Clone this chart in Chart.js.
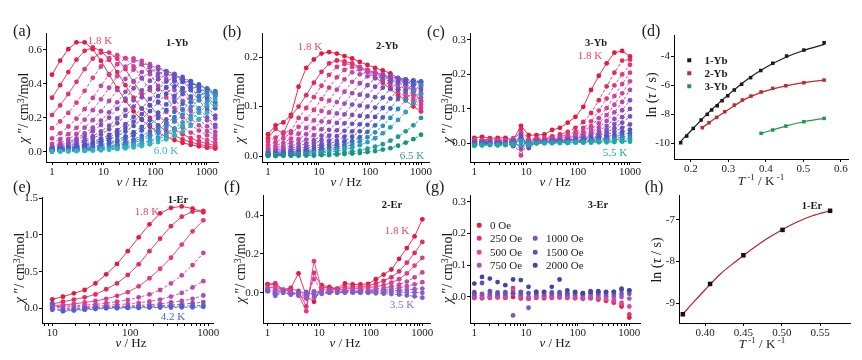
<!DOCTYPE html>
<html>
<head>
<meta charset="utf-8">
<script src="https://cdn.jsdelivr.net/npm/chart.js@4.4.1/dist/chart.umd.min.js"></script>
<style>
body{margin:0;background:#fff;width:862px;height:360px;position:relative;overflow:hidden;
  font-family:"Liberation Serif","Times New Roman",serif;color:#1a1a1a}
canvas{position:absolute;z-index:1}
.t{position:absolute;white-space:nowrap;line-height:1;transform:translate(-50%,-50%);z-index:2}
sup{font-size:0.7em;vertical-align:0.45em;line-height:0}
.dot{position:absolute;z-index:2;transform:translate(-50%,-50%)}
</style>
</head>
<body>
<script>
// frequencies (Hz)
const freqA = [1, 1.44, 2.07, 2.98, 4.29, 6.17, 8.88, 12.8, 18.4, 26.5, 38.1, 54.9, 79, 114, 164, 236, 340, 489, 704, 1013, 1459];
const freqStd = [1, 1.41, 2, 2.82, 3.98, 5.62, 7.94, 11.2, 15.8, 22.4, 31.6, 44.7, 63.1, 89.1, 126, 178, 251, 355, 501, 708, 1000];
const freqE = [10, 13.7, 18.9, 26, 35.7, 49.1, 67.5, 92.8, 128, 176, 241, 332, 456, 628, 863];

// (a) 1-Yb, 1.8 K ... 6.0 K
const chi1Yb = [
  [0.455,0.537,0.605,0.645,0.645,0.605,0.537,0.455,0.376,0.302,0.239,0.189,0.148,0.115,0.089,0.070,0.054,0.042,0.033,0.025,0.020],
  [0.319,0.393,0.470,0.543,0.595,0.615,0.595,0.543,0.470,0.393,0.319,0.255,0.201,0.157,0.123,0.096,0.074,0.058,0.045,0.035,0.027],
  [0.217,0.274,0.341,0.413,0.487,0.549,0.585,0.585,0.549,0.487,0.413,0.341,0.274,0.217,0.171,0.134,0.104,0.081,0.063,0.049,0.038],
  [0.140,0.180,0.230,0.290,0.360,0.436,0.503,0.552,0.570,0.552,0.503,0.436,0.364,0.296,0.236,0.186,0.146,0.114,0.089,0.069,0.054],
  [0.080,0.110,0.150,0.196,0.252,0.318,0.389,0.458,0.516,0.551,0.551,0.516,0.458,0.389,0.321,0.258,0.204,0.161,0.126,0.098,0.076],
  [0.048,0.075,0.105,0.142,0.190,0.246,0.310,0.378,0.446,0.502,0.536,0.536,0.502,0.446,0.378,0.312,0.251,0.199,0.157,0.123,0.096],
  [0.032,0.052,0.076,0.106,0.143,0.187,0.239,0.300,0.364,0.430,0.484,0.516,0.516,0.484,0.430,0.364,0.301,0.241,0.191,0.151,0.118],
  [0.026,0.040,0.058,0.080,0.109,0.143,0.184,0.233,0.292,0.354,0.417,0.470,0.501,0.501,0.470,0.417,0.354,0.292,0.234,0.186,0.146],
  [0.022,0.034,0.050,0.069,0.093,0.122,0.158,0.202,0.254,0.313,0.375,0.433,0.474,0.490,0.474,0.433,0.375,0.313,0.254,0.203,0.160],
  [0.019,0.028,0.039,0.053,0.071,0.093,0.121,0.155,0.197,0.247,0.304,0.363,0.419,0.460,0.475,0.460,0.419,0.363,0.304,0.247,0.197],
  [0.017,0.024,0.034,0.046,0.061,0.080,0.103,0.133,0.169,0.213,0.266,0.322,0.380,0.428,0.456,0.456,0.428,0.380,0.322,0.266,0.213],
  [0.014,0.019,0.026,0.035,0.047,0.060,0.079,0.101,0.129,0.164,0.206,0.257,0.312,0.368,0.414,0.441,0.441,0.414,0.368,0.312,0.257],
  [0.013,0.017,0.023,0.030,0.039,0.052,0.067,0.086,0.110,0.141,0.178,0.223,0.275,0.329,0.380,0.416,0.430,0.416,0.380,0.329,0.275],
  [0.011,0.015,0.020,0.026,0.034,0.044,0.057,0.073,0.094,0.120,0.153,0.193,0.240,0.291,0.343,0.386,0.412,0.412,0.386,0.343,0.291],
  [0.009,0.012,0.016,0.020,0.026,0.033,0.043,0.055,0.071,0.091,0.116,0.147,0.186,0.231,0.280,0.330,0.372,0.397,0.397,0.372,0.330],
  [0.008,0.010,0.013,0.017,0.022,0.028,0.036,0.047,0.060,0.077,0.099,0.126,0.159,0.200,0.246,0.295,0.340,0.373,0.385,0.373,0.340],
  [0.006,0.007,0.010,0.013,0.016,0.021,0.027,0.035,0.045,0.058,0.074,0.095,0.121,0.153,0.192,0.236,0.283,0.327,0.358,0.370,0.358],
  [0.005,0.006,0.008,0.011,0.014,0.018,0.023,0.029,0.038,0.049,0.063,0.081,0.103,0.131,0.165,0.205,0.249,0.293,0.330,0.352,0.352],
  [0.004,0.006,0.007,0.009,0.012,0.015,0.020,0.025,0.032,0.042,0.054,0.069,0.088,0.113,0.143,0.179,0.220,0.264,0.305,0.334,0.345],
  [0.003,0.004,0.005,0.007,0.009,0.011,0.015,0.019,0.024,0.031,0.041,0.052,0.067,0.086,0.110,0.139,0.174,0.214,0.256,0.296,0.324],
  [0.003,0.004,0.005,0.006,0.008,0.010,0.013,0.017,0.021,0.027,0.035,0.045,0.058,0.075,0.096,0.121,0.153,0.191,0.231,0.273,0.307],
  [0.002,0.003,0.004,0.005,0.006,0.008,0.010,0.013,0.017,0.021,0.027,0.035,0.045,0.058,0.075,0.096,0.121,0.153,0.191,0.231,0.273]
];

// (b) 2-Yb, 1.8 K ... 6.5 K
const chi2Yb = [
  [0.044,0.062,0.068,0.083,0.140,0.178,0.195,0.207,0.210,0.207,0.202,0.197,0.190,0.184,0.178,0.173,0.167,0.157,0.145,0.130,0.110],
  [0.036,0.055,0.045,0.080,0.100,0.123,0.148,0.170,0.187,0.193,0.191,0.187,0.179,0.170,0.159,0.148,0.135,0.123,0.112,0.100,0.090],
  [0.029,0.037,0.048,0.050,0.077,0.097,0.119,0.142,0.164,0.180,0.186,0.185,0.180,0.173,0.164,0.154,0.142,0.130,0.119,0.108,0.097],
  [0.022,0.028,0.036,0.046,0.059,0.075,0.093,0.115,0.138,0.159,0.174,0.180,0.179,0.174,0.167,0.159,0.149,0.138,0.126,0.115,0.104],
  [0.016,0.021,0.027,0.035,0.045,0.057,0.072,0.091,0.112,0.134,0.155,0.169,0.175,0.174,0.169,0.163,0.155,0.145,0.134,0.123,0.112],
  [0.012,0.016,0.021,0.027,0.034,0.044,0.056,0.070,0.088,0.109,0.130,0.150,0.165,0.170,0.169,0.165,0.158,0.150,0.140,0.130,0.119],
  [0.009,0.012,0.016,0.020,0.026,0.033,0.042,0.054,0.069,0.086,0.106,0.127,0.147,0.161,0.166,0.165,0.161,0.154,0.147,0.137,0.127],
  [0.007,0.009,0.012,0.015,0.020,0.025,0.032,0.041,0.053,0.067,0.084,0.104,0.124,0.143,0.157,0.162,0.161,0.157,0.151,0.143,0.134],
  [0.005,0.007,0.009,0.012,0.015,0.019,0.025,0.032,0.041,0.052,0.066,0.083,0.102,0.122,0.140,0.154,0.159,0.158,0.154,0.148,0.140],
  [0.004,0.005,0.007,0.009,0.011,0.015,0.019,0.024,0.031,0.040,0.051,0.065,0.081,0.100,0.119,0.138,0.151,0.156,0.155,0.151,0.145],
  [0.003,0.004,0.005,0.007,0.009,0.011,0.014,0.019,0.024,0.031,0.039,0.050,0.064,0.080,0.098,0.118,0.136,0.149,0.154,0.153,0.149],
  [0.002,0.003,0.004,0.005,0.007,0.009,0.011,0.014,0.018,0.024,0.030,0.039,0.050,0.063,0.079,0.097,0.116,0.134,0.147,0.152,0.151],
  [0.002,0.002,0.003,0.004,0.005,0.007,0.009,0.011,0.014,0.018,0.023,0.030,0.038,0.049,0.062,0.078,0.096,0.115,0.132,0.145,0.150],
  [0.001,0.002,0.002,0.003,0.004,0.005,0.007,0.008,0.011,0.014,0.018,0.023,0.030,0.038,0.048,0.061,0.077,0.095,0.113,0.131,0.143],
  [0.001,0.001,0.002,0.002,0.003,0.004,0.005,0.006,0.008,0.010,0.013,0.017,0.022,0.028,0.036,0.046,0.058,0.073,0.089,0.107,0.124],
  [0.001,0.001,0.001,0.001,0.001,0.002,0.002,0.003,0.004,0.005,0.007,0.009,0.011,0.015,0.019,0.024,0.031,0.039,0.050,0.062,0.077],
  [0.000,0.000,0.001,0.001,0.001,0.001,0.001,0.002,0.002,0.003,0.004,0.005,0.006,0.008,0.010,0.013,0.016,0.021,0.027,0.034,0.043]
];

// (c) 3-Yb, 1.8 K ... 5.5 K
const chi3Yb = [
  [0.016,0.019,0.015,0.016,0.016,0.010,0.051,0.024,0.024,0.026,0.039,0.045,0.060,0.077,0.106,0.155,0.196,0.232,0.263,0.268,0.252],
  [0.012,0.010,0.012,0.011,0.010,0.005,0.040,0.012,0.015,0.016,0.020,0.026,0.033,0.045,0.062,0.088,0.125,0.165,0.205,0.240,0.243],
  [0.010,0.009,0.010,0.009,0.008,0.002,-0.035,0.010,0.012,0.013,0.016,0.020,0.025,0.033,0.045,0.064,0.095,0.130,0.168,0.200,0.228],
  [0.008,0.008,0.009,0.008,0.006,0.015,0.030,0.005,0.011,0.012,0.014,0.016,0.020,0.026,0.035,0.050,0.073,0.102,0.137,0.172,0.205],
  [0.006,0.007,0.006,0.006,0.005,0.012,-0.018,0.006,0.009,0.010,0.012,0.014,0.017,0.021,0.028,0.040,0.058,0.082,0.112,0.145,0.180],
  [0.005,0.006,0.005,0.004,0.004,0.000,0.020,-0.010,0.008,0.009,0.010,0.012,0.014,0.018,0.023,0.032,0.046,0.065,0.090,0.120,0.155],
  [0.004,0.004,0.004,0.003,0.003,0.008,0.012,0.004,0.007,0.008,0.009,0.010,0.012,0.015,0.019,0.026,0.036,0.051,0.071,0.096,0.125],
  [0.003,0.003,0.003,0.002,0.002,-0.008,0.018,-0.004,0.006,0.007,0.008,0.009,0.010,0.012,0.016,0.021,0.029,0.040,0.056,0.076,0.100],
  [0.002,0.002,0.002,0.001,0.002,0.006,-0.012,0.003,0.005,0.006,0.007,0.008,0.009,0.011,0.013,0.017,0.023,0.032,0.044,0.060,0.078],
  [0.000,0.001,0.001,0.000,0.001,-0.004,0.025,-0.014,0.004,0.005,0.006,0.007,0.008,0.009,0.011,0.014,0.018,0.025,0.034,0.045,0.055],
  [-0.002,0.000,0.000,0.000,0.000,0.004,0.006,0.000,0.003,0.004,0.005,0.006,0.007,0.008,0.009,0.011,0.014,0.019,0.025,0.033,0.040],
  [-0.003,-0.002,-0.001,-0.002,-0.001,-0.006,0.015,-0.008,0.002,0.003,0.004,0.005,0.005,0.006,0.007,0.009,0.011,0.014,0.019,0.025,0.030],
  [-0.004,-0.003,-0.002,-0.003,-0.002,0.002,-0.006,0.004,0.002,0.002,0.003,0.003,0.004,0.005,0.006,0.007,0.009,0.011,0.014,0.018,0.022],
  [-0.005,-0.004,-0.003,-0.004,-0.003,-0.002,0.008,-0.006,0.001,0.002,0.002,0.003,0.003,0.004,0.005,0.005,0.006,0.008,0.010,0.013,0.015],
  [-0.006,-0.005,-0.004,-0.005,-0.004,-0.004,0.002,-0.002,0.000,0.001,0.001,0.002,0.002,0.003,0.003,0.004,0.005,0.006,0.007,0.008,0.010],
  [-0.007,-0.006,-0.005,-0.006,-0.005,-0.003,-0.004,0.000,0.000,0.000,0.001,0.001,0.001,0.002,0.002,0.002,0.003,0.003,0.004,0.005,0.005]
];

// (d) ln(tau) vs 1/T
const invT1Yb = [0.1725,0.1886,0.206,0.227,0.2435,0.255,0.27,0.283,0.298,0.3155,0.335,0.359,0.386,0.418,0.455,0.501,0.555];
const lnTau1Yb = [-9.98,-9.52,-8.99,-8.41,-8.02,-7.72,-7.43,-7.08,-6.74,-6.34,-5.95,-5.49,-5.0,-4.5,-4.0,-3.59,-3.08];
const invT2Yb = [0.230,0.248,0.2685,0.29,0.3155,0.337,0.36,0.387,0.418,0.453,0.501,0.555];
const lnTau2Yb = [-8.94,-8.6,-8.23,-7.84,-7.38,-7.03,-6.76,-6.48,-6.23,-6.05,-5.84,-5.66];
const invT3Yb = [0.387,0.418,0.453,0.501,0.555];
const lnTau3Yb = [-9.33,-9.1,-8.83,-8.53,-8.3];
const fitX1Yb = [0.17,0.2,0.25,0.3,0.35,0.4,0.45,0.5,0.556];
const fitY1Yb = [-9.95,-9.15,-7.82,-6.66,-5.62,-4.78,-4.12,-3.62,-3.2];
const fitX2Yb = [0.23,0.26,0.3,0.35,0.4,0.45,0.5,0.556];
const fitY2Yb = [-8.95,-8.38,-7.68,-6.9,-6.4,-6.07,-5.84,-5.66];

// (e) 1-Er, 1.8 K ... 4.2 K
const chi1Er = [
  [0.123,0.159,0.205,0.250,0.340,0.464,0.605,0.780,0.968,1.145,1.295,1.370,1.390,1.360,1.310],
  [0.060,0.090,0.120,0.150,0.190,0.260,0.340,0.455,0.600,0.780,0.950,1.120,1.250,1.320,1.330],
  [0.040,0.045,0.060,0.080,0.100,0.130,0.170,0.220,0.300,0.410,0.540,0.690,0.870,1.050,1.200],
  [0.030,0.030,0.035,0.045,0.055,0.070,0.090,0.115,0.150,0.190,0.250,0.340,0.450,0.590,0.755],
  [0.020,0.020,0.020,0.025,0.030,0.040,0.050,0.060,0.075,0.095,0.120,0.160,0.210,0.285,0.370],
  [0.050,0.000,0.000,0.010,0.015,0.020,0.025,0.030,0.040,0.050,0.060,0.080,0.100,0.130,0.175],
  [0.000,-0.020,-0.010,0.000,0.005,0.010,0.015,0.020,0.025,0.030,0.035,0.045,0.055,0.070,0.085],
  [-0.020,-0.030,-0.020,-0.010,0.000,0.005,0.010,0.010,0.015,0.020,0.020,0.025,0.030,0.035,0.040],
  [0.070,-0.040,-0.030,-0.020,-0.010,0.000,0.000,0.005,0.005,0.010,0.010,0.010,0.015,0.015,0.020]
];

// (f) 2-Er, 1.8 K ... 3.5 K
const chi2Er = [
  [0.045,0.048,0.017,0.025,0.100,-0.015,-0.046,0.040,0.030,0.022,0.048,0.043,0.044,0.046,0.070,0.094,0.120,0.175,0.230,0.290,0.378],
  [0.040,0.044,0.012,0.020,0.010,-0.070,0.103,0.030,0.025,0.020,0.030,0.030,0.032,0.036,0.048,0.062,0.080,0.110,0.155,0.205,0.262],
  [0.025,0.030,0.015,0.010,-0.010,-0.094,0.163,0.020,0.018,0.015,0.020,0.022,0.024,0.026,0.032,0.040,0.052,0.070,0.100,0.140,0.180],
  [0.020,0.020,0.010,0.005,-0.015,-0.030,0.070,0.010,0.012,0.010,0.012,0.013,0.014,0.016,0.020,0.025,0.032,0.042,0.058,0.080,0.105],
  [0.015,0.012,0.008,0.000,-0.010,-0.020,0.005,0.005,0.008,0.006,0.008,0.009,0.010,0.011,0.013,0.016,0.020,0.026,0.034,0.044,0.055],
  [0.012,0.005,0.005,-0.005,-0.005,-0.010,-0.025,0.000,0.005,0.004,0.005,0.006,0.006,0.007,0.008,0.009,0.011,0.013,0.016,0.019,0.022],
  [0.010,-0.005,0.002,-0.010,0.000,0.000,0.008,-0.005,0.002,0.002,0.003,0.003,0.003,0.003,0.003,0.004,0.004,0.004,0.003,0.002,0.000],
  [0.008,-0.015,0.000,-0.005,0.002,0.005,-0.010,-0.003,0.000,0.000,0.001,0.001,0.000,0.000,-0.002,-0.004,-0.006,-0.009,-0.013,-0.018,-0.025]
];

// (g) 3-Er under dc fields
const fields3Er = ['0 Oe','250 Oe','500 Oe','750 Oe','1000 Oe','1500 Oe','2000 Oe'];
const chi3Er = [
  [0.000,-0.002,0.000,0.000,-0.002,0.000,0.000,-0.005,0.000,0.000,0.000,0.000,0.000,-0.002,-0.005,-0.003,-0.008,-0.012,-0.018,-0.030,-0.065],
  [-0.003,-0.004,-0.003,-0.002,-0.003,0.028,-0.005,-0.006,-0.003,-0.004,-0.003,-0.002,-0.003,-0.004,-0.005,-0.004,-0.006,-0.010,-0.015,-0.025,-0.055],
  [0.002,0.000,0.001,0.002,0.000,0.020,0.003,-0.003,0.002,0.001,0.002,0.002,0.001,0.000,-0.001,0.000,-0.002,-0.005,-0.010,-0.018,-0.030],
  [0.006,0.005,0.006,0.005,0.004,0.010,0.008,0.000,0.006,0.005,0.006,0.006,0.005,0.005,0.004,0.006,0.004,0.002,0.000,0.000,-0.005],
  [0.010,0.010,0.010,0.008,0.010,-0.058,0.010,-0.034,0.010,0.009,0.010,0.010,0.009,0.010,0.008,0.012,0.010,0.008,0.008,0.010,0.010],
  [0.015,0.044,0.018,0.014,0.015,0.012,0.016,0.012,0.016,0.015,0.014,0.015,0.012,0.014,0.012,0.018,0.014,0.015,0.016,0.022,0.020],
  [0.042,0.063,0.058,0.047,0.037,0.055,0.053,0.032,0.016,0.016,0.032,0.055,0.021,0.016,0.012,0.016,0.018,0.016,0.016,0.026,0.021]
];

// (h) 1-Er ln(tau)
const invT1Er = [0.371,0.4065,0.450,0.501,0.563];
const lnTau1Er = [-9.27,-8.54,-7.85,-7.24,-6.78];
const fitX1Er = [0.371,0.385,0.40,0.42,0.44,0.46,0.48,0.50,0.52,0.54,0.563];
const fitY1Er = [-9.27,-8.98,-8.68,-8.3,-8.0,-7.72,-7.46,-7.24,-7.05,-6.9,-6.78];

// ticks
const logTicks = [1,2,3,4,5,6,7,8,9,10,20,30,40,50,60,70,80,90,100,200,300,400,500,600,700,800,900,1000];
const logLabels = ['1','','','','','','','','','10','','','','','','','','','100','','','','','','','','','1000'];
const logTicksE = [8,9,10,20,30,40,50,60,70,80,90,100,200,300,400,500,600,700,800,900,1000];
const logLabelsE = ['','','10','','','','','','','','','100','','','','','','','','','1000'];

function gradient(stops, n) {
  const out = [];
  for (let k = 0; k < n; k++) {
    const t = n === 1 ? 0 : k / (n - 1) * (stops.length - 1);
    const j = Math.min(Math.floor(t), stops.length - 2);
    const u = t - j;
    const c = stops[j].map((v, m) => Math.round(v + (stops[j + 1][m] - v) * u));
    out.push('rgb(' + c.join(',') + ')');
  }
  return out;
}

const tickFont = {family: 'Liberation Serif', size: 11};

function axis(type, min, max, ticks, labels, pos, fixed) {
  return {
    type: type, min: min, max: max, position: pos,
    afterBuildTicks: s => { s.ticks = ticks.map(v => ({value: v})); },
    afterFit: s => { if (pos === 'bottom') s.height = fixed; else s.width = fixed; },
    ticks: {font: tickFont, color: '#1a1a1a', padding: 1, maxRotation: 0, minRotation: 0,
      autoSkip: false, callback: (v, i) => labels[i]},
    grid: {display: true, drawOnChartArea: false, drawTicks: true, tickLength: 3, color: '#000', lineWidth: 1},
    border: {display: true, color: '#000', width: 1}
  };
}

function makeChart(box, xs, ys, datasets) {
  const padL = 40, padT = 10, padR = 16, padB = 30;
  const w = box.R - box.L + padL + padR, h = box.B - box.T + padT + padB;
  const cv = document.createElement('canvas');
  cv.width = w; cv.height = h;
  cv.style.left = (box.L - padL) + 'px';
  cv.style.top = (box.T - padT) + 'px';
  cv.style.width = w + 'px'; cv.style.height = h + 'px';
  document.body.appendChild(cv);
  new Chart(cv, {
    type: 'line',
    data: {datasets: datasets},
    options: {
      responsive: false, animation: false, devicePixelRatio: 1,
      layout: {padding: {left: 0, top: padT, right: padR, bottom: 0}},
      plugins: {legend: {display: false}, tooltip: {enabled: false}},
      scales: {
        x: axis(xs[0], xs[1], xs[2], xs[3], xs[4], 'bottom', padB),
        y: axis('linear', ys[0], ys[1], ys[2], ys[3], 'left', padL)
      }
    }
  });
}

// later temperatures are drawn on top, as in the original
function chiSets(freq, list, colors, solid, line) {
  return list.map((vals, k) => ({
    data: freq.map((f, i) => ({x: f, y: vals[i]})),
    borderColor: colors[k], backgroundColor: colors[k],
    borderWidth: 0.9, pointRadius: 2.4, pointBorderWidth: 0,
    borderDash: k < solid ? [] : [3, 2],
    showLine: line, tension: 0,
    order: list.length - k
  }));
}

function pts(xs, ys, color, r) {
  return {data: xs.map((x, i) => ({x: x, y: ys[i]})), showLine: false, pointStyle: 'rect',
    pointRadius: r, backgroundColor: color, borderColor: color, pointBorderWidth: 0};
}
function fit(xs, ys, color) {
  return {data: xs.map((x, i) => ({x: x, y: ys[i]})), borderColor: color, borderWidth: 1.2,
    pointRadius: 0, cubicInterpolationMode: 'monotone'};
}

const red = [232,24,60], pink = [226,58,128], mag = [198,70,172], purp = [142,78,190],
      violet = [110,80,195], blue = [75,85,195], blue2 = [68,98,200];

// (a)
makeChart({L: 46, T: 33, R: 218, B: 162},
  ['logarithmic', 0.765, 1650, logTicks, logLabels],
  [-0.059, 0.70, [0, 0.2, 0.4, 0.6], ['0.0', '0.2', '0.4', '0.6']],
  chiSets(freqA, chi1Yb, gradient([red, pink, mag, purp, violet, blue, blue2, [55,140,200], [45,180,190]], chi1Yb.length), 3, true));
// (b)
makeChart({L: 262, T: 33, R: 429, B: 162},
  ['logarithmic', 0.763, 1435, logTicks, logLabels],
  [-0.012, 0.2485, [0, 0.1, 0.2], ['0.0', '0.1', '0.2']],
  chiSets(freqStd, chi2Yb, gradient([red, pink, mag, purp, violet, blue, [40,160,195], [22,150,120]], chi2Yb.length), 2, true));
// (c)
makeChart({L: 470, T: 33, R: 640, B: 162},
  ['logarithmic', 0.826, 1560, logTicks, logLabels],
  [-0.054, 0.32, [0, 0.1, 0.2, 0.3], ['0.0', '0.1', '0.2', '0.3']],
  chiSets(freqStd, chi3Yb, gradient([red, pink, mag, purp, violet, blue, [50,145,200], [30,170,160]], chi3Yb.length), 1, true));
// (d)
makeChart({L: 674, T: 35, R: 848, B: 159},
  ['linear', 0.1547, 0.6187, [0.2, 0.3, 0.4, 0.5, 0.6], ['0.2', '0.3', '0.4', '0.5', '0.6']],
  [-11.1, -2.55, [-10, -8, -6, -4], ['-10', '-8', '-6', '-4']],
  [fit(fitX1Yb, fitY1Yb, '#1a1a1a'), fit(fitX2Yb, fitY2Yb, '#c1272d'), fit(invT3Yb, lnTau3Yb, '#1f9a4b'),
   pts(invT1Yb, lnTau1Yb, '#1a1a1a', 2.5), pts(invT2Yb, lnTau2Yb, '#c1272d', 2.5), pts(invT3Yb, lnTau3Yb, '#1f9a4b', 2.5)]);
// (e)
makeChart({L: 42, T: 197, R: 213, B: 323},
  ['logarithmic', 7.38, 1148, logTicksE, logLabelsE],
  [-0.2, 1.518, [0, 0.5, 1.0, 1.5], ['0.0', '0.5', '1.0', '1.5']],
  chiSets(freqE, chi1Er, gradient([red, pink, mag, purp, [74,100,200]], chi1Er.length), 3, true));
// (f)
makeChart({L: 263, T: 195, R: 430, B: 323},
  ['logarithmic', 0.815, 1409, logTicks, logLabels],
  [-0.155, 0.503, [0, 0.2, 0.4], ['0.0', '0.2', '0.4']],
  chiSets(freqStd, chi2Er, gradient([red, pink, mag, [150,90,200], [120,95,205]], chi2Er.length), 3, true));
// (g)
const colors3Er = ['#e8193c', '#e6307a', '#dc4a9e', '#b452b4', '#7d55bb', '#5a55bd', '#4545a8'];
makeChart({L: 470, T: 195, R: 640, B: 323},
  ['logarithmic', 0.825, 1610, logTicks, logLabels],
  [-0.082, 0.321, [0, 0.1, 0.2, 0.3], ['0.0', '0.1', '0.2', '0.3']],
  chiSets(freqStd, chi3Er, colors3Er, 0, false));
// (h)
makeChart({L: 679, T: 195, R: 850, B: 323},
  ['linear', 0.366, 0.589, [0.40, 0.45, 0.50, 0.55], ['0.40', '0.45', '0.50', '0.55']],
  [-9.48, -6.4, [-9, -8, -7], ['-9', '-8', '-7']],
  [pts(invT1Er, lnTau1Er, '#111', 3.2), fit(fitX1Er, fitY1Er, '#b3222c')]);

// texts
function txt(html, x, y, css) {
  const d = document.createElement('div');
  d.className = 't';
  d.innerHTML = html;
  d.style.left = x + 'px'; d.style.top = y + 'px';
  Object.assign(d.style, css || {});
  document.body.appendChild(d);
}
const chiTitle = '<i>χ</i> ″/ cm<sup>3</sup>/mol';
const nuTitle = '<i>ν</i> / Hz';
const rot = {transform: 'translate(-50%,-50%) rotate(-90deg)', fontSize: '14px'};
const xt = {fontSize: '13px'};
const letter = {fontSize: '16px'};
const bold = {fontSize: '10.5px', fontWeight: 'bold'};
const small = {fontSize: '11px'};

[['(a)', 22, 31], ['(b)', 232, 32], ['(c)', 436, 32], ['(d)', 651, 31],
 ['(e)', 22, 187], ['(f)', 232, 187], ['(g)', 435, 187], ['(h)', 654, 187]].forEach(a => txt(a[0], a[1], a[2], letter));

txt(chiTitle, 24, 108, rot); txt(chiTitle, 240, 108, rot); txt(chiTitle, 448, 108, rot);
txt(chiTitle, 20, 268, rot); txt(chiTitle, 241, 268, rot); txt(chiTitle, 448, 268, rot);
txt('ln (<i>τ</i> / s)', 652, 95, rot); txt('ln (<i>τ</i> / s)', 657, 260, rot);
txt(nuTitle, 132, 181, xt); txt(nuTitle, 346, 181, xt); txt(nuTitle, 555, 181, xt);
txt(nuTitle, 131, 342, xt); txt(nuTitle, 345, 342, xt); txt(nuTitle, 555, 342, xt);
txt('<i>T</i><sup> -1</sup> / K<sup> -1</sup>', 761, 180, xt);
txt('<i>T</i><sup> -1</sup> / K<sup> -1</sup>', 762, 343, xt);

txt('1.8 K', 100, 40, Object.assign({color: '#e8456a'}, small));
txt('1-Yb', 177, 43, bold);
txt('6.0 K', 166, 150, Object.assign({color: '#3ab8c0'}, small));
txt('1.8 K', 310, 46, Object.assign({color: '#e8456a'}, small));
txt('2-Yb', 387, 46, bold);
txt('6.5 K', 412, 155, Object.assign({color: '#2a9d8a'}, small));
txt('3-Yb', 596, 43, bold);
txt('1.8 K', 590, 55, Object.assign({color: '#e8456a'}, small));
txt('5.5 K', 615, 152, Object.assign({color: '#20a8a0'}, small));
txt('1-Er', 178, 200, bold);
txt('1.8 K', 147, 211, Object.assign({color: '#e8456a'}, small));
txt('4.2 K', 173, 316, Object.assign({color: '#4a64c8'}, small));
txt('2-Er', 392, 205, bold);
txt('1.8 K', 397, 230, Object.assign({color: '#e8456a'}, small));
txt('3.5 K', 402, 304, Object.assign({color: '#8a6ad0'}, small));
txt('3-Er', 598, 205, bold);
txt('1-Er', 812, 206, bold);

// legends
function marker(x, y, color, round, size) {
  const d = document.createElement('div');
  d.className = 'dot';
  d.style.left = x + 'px'; d.style.top = y + 'px';
  d.style.width = size + 'px'; d.style.height = size + 'px';
  d.style.background = color;
  if (round) d.style.borderRadius = '50%';
  document.body.appendChild(d);
}
[['1-Yb', '#1a1a1a', 60], ['2-Yb', '#c1272d', 73], ['3-Yb', '#1f9a4b', 86]].forEach(r => {
  marker(689, r[2], r[1], false, 3.5);
  txt(r[0], 716, r[2], {fontSize: '11px', fontWeight: 'bold'});
});
const legPos = [[479, 225], [479, 238], [479, 252], [479, 265], [535, 238], [535, 252], [535, 265]];
fields3Er.forEach((name, k) => {
  marker(legPos[k][0], legPos[k][1], colors3Er[k], true, 4.6);
  txt(name, legPos[k][0] + 11, legPos[k][1], Object.assign({transform: 'translate(0,-50%)'}, small));
});
</script>
</body>
</html>
